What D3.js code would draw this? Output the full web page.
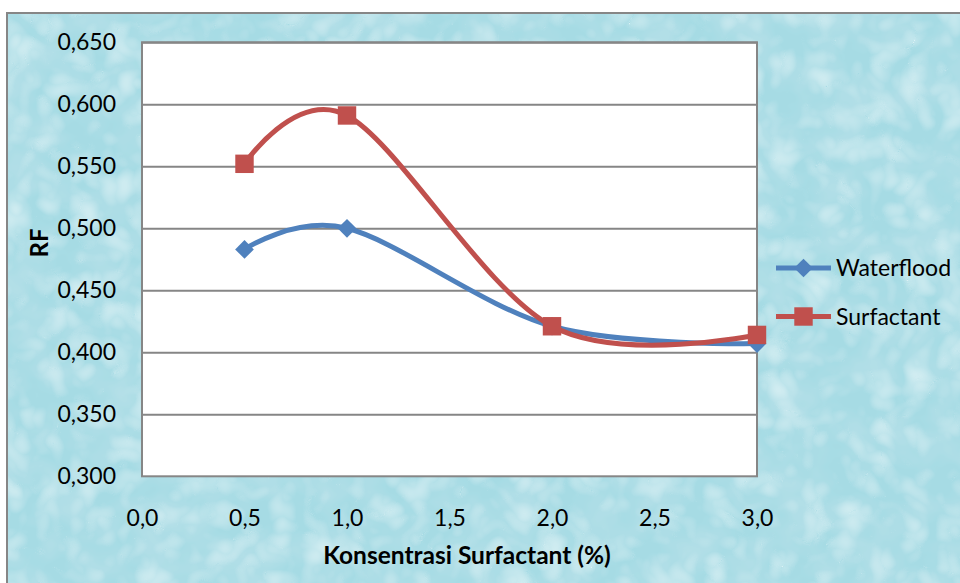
<!DOCTYPE html>
<html>
<head>
<meta charset="utf-8">
<script src="https://cdn.jsdelivr.net/npm/d3@7"></script>
<style>
  html, body { margin: 0; padding: 0; background: #ffffff; }
  svg { display: block; }
  text { font-family: Lato, "Open Sans", sans-serif; fill: #000; }
</style>
</head>
<body>
<svg id="chart" width="960" height="583"></svg>
<script>
// Surfactant concentration (%) and recovery factor for each run
const concentration = [0.5, 1.0, 2.0, 3.0];
const waterflood = [0.483, 0.500, 0.421, 0.407];
const surfactant = [0.552, 0.591, 0.421, 0.414];
const seriesNames = ["Waterflood", "Surfactant"];
const seriesColors = ["#4F81BD", "#C0504D"];
const xTicks = [0, 0.5, 1.0, 1.5, 2.0, 2.5, 3.0];
const yTicks = [0.30, 0.35, 0.40, 0.45, 0.50, 0.55, 0.60, 0.65];
const xTitle = "Konsentrasi Surfactant (%)";
const yTitle = "RF";

const svg = d3.select("#chart");
const fmtX = v => d3.format(".1f")(v).replace(".", ",");
const fmtY = v => d3.format(".3f")(v).replace(".", ",");

// Textured light-blue chart background
const defs = svg.append("defs");
const tex = defs.append("filter").attr("id", "water")
  .attr("x", 0).attr("y", 0).attr("width", 1).attr("height", 1);
tex.append("feTurbulence").attr("type", "fractalNoise")
  .attr("baseFrequency", "0.022 0.026").attr("numOctaves", 3).attr("seed", 7)
  .attr("result", "noise");
tex.append("feColorMatrix").attr("in", "noise").attr("type", "matrix")
  .attr("values", "0 0 0 0 0.50  0 0 0 0 0.76  0 0 0 0 0.82  1.3 0 0 0 -0.45")
  .attr("result", "dark");
tex.append("feTurbulence").attr("type", "turbulence")
  .attr("baseFrequency", "0.03").attr("numOctaves", 2).attr("seed", 3)
  .attr("result", "noise2");
tex.append("feColorMatrix").attr("in", "noise2").attr("type", "matrix")
  .attr("values", "0 0 0 0 0.82  0 0 0 0 0.94  0 0 0 0 0.96  0.9 0 0 0 -0.15")
  .attr("result", "light");
tex.append("feMerge").selectAll("feMergeNode")
  .data(["SourceGraphic", "dark", "light"]).join("feMergeNode").attr("in", d => d);

svg.append("rect")
  .attr("x", 7).attr("y", 13).attr("width", 960).attr("height", 580)
  .attr("fill", "#A6DBE4").attr("filter", "url(#water)");
svg.append("rect")
  .attr("x", 7).attr("y", 13).attr("width", 960).attr("height", 580)
  .attr("fill", "none").attr("stroke", "#868686").attr("stroke-width", 2);

// Plot area
const plot = { left: 142, top: 42.3, right: 757, bottom: 476.3 };
const x = d3.scaleLinear().domain([0, 3]).range([plot.left, plot.right]);
const y = d3.scaleLinear().domain([0.30, 0.65]).range([plot.bottom, plot.top]);

svg.append("rect")
  .attr("x", plot.left).attr("y", plot.top)
  .attr("width", plot.right - plot.left).attr("height", plot.bottom - plot.top)
  .attr("fill", "#ffffff");

// Horizontal gridlines
svg.append("g")
  .attr("transform", `translate(${plot.left},0)`)
  .call(d3.axisRight(y).tickValues(yTicks.slice(1)).tickSize(plot.right - plot.left).tickFormat(""))
  .call(g => g.select(".domain").remove())
  .call(g => g.selectAll("line").attr("stroke", "#868686").attr("stroke-width", 2));

// Plot border
svg.append("rect")
  .attr("x", plot.left).attr("y", plot.top)
  .attr("width", plot.right - plot.left).attr("height", plot.bottom - plot.top)
  .attr("fill", "none").attr("stroke", "#868686").attr("stroke-width", 2);

// Y axis labels
const yAxis = svg.append("g")
  .attr("transform", `translate(${plot.left},0)`)
  .call(d3.axisLeft(y).tickValues(yTicks).tickSize(0).tickPadding(26).tickFormat(fmtY));
yAxis.select(".domain").remove();
yAxis.selectAll("text").style("font-family", "Lato, sans-serif").style("font-size", "23px").attr("fill", "#000");

// X axis labels
const xAxis = svg.append("g")
  .attr("transform", `translate(0,${plot.bottom})`)
  .call(d3.axisBottom(x).tickValues(xTicks).tickSize(0).tickPadding(33).tickFormat(fmtX));
xAxis.select(".domain").remove();
xAxis.selectAll("text").style("font-family", "Lato, sans-serif").style("font-size", "23px").attr("fill", "#000");

// Axis titles
svg.append("text")
  .attr("x", 467).attr("y", 564).attr("text-anchor", "middle")
  .style("font-size", "24.5px").style("font-weight", "bold").text(xTitle);
svg.append("text")
  .attr("transform", "translate(48,243) rotate(-90)").attr("text-anchor", "middle")
  .style("font-size", "24px").style("font-weight", "bold").text(yTitle);

// Series: diamonds are squares turned 45 degrees
const series = [
  { name: seriesNames[0], color: seriesColors[0], values: waterflood, marker: d3.symbolSquare, size: 175, rot: 45 },
  { name: seriesNames[1], color: seriesColors[1], values: surfactant, marker: d3.symbolSquare, size: 340, rot: 0 }
];

const line = d3.line()
  .x(d => x(d[0])).y(d => y(d[1]))
  .curve(d3.curveCardinal.tension(0));

series.forEach(s => {
  const pts = concentration.map((c, i) => [c, s.values[i]]);
  svg.append("path").datum(pts)
    .attr("d", line).attr("fill", "none")
    .attr("stroke", s.color).attr("stroke-width", 5).attr("stroke-linejoin", "round");
  svg.append("g").selectAll("path").data(pts).join("path")
    .attr("transform", d => `translate(${x(d[0])},${y(d[1])}) rotate(${s.rot})`)
    .attr("d", d3.symbol().type(s.marker).size(s.size))
    .attr("fill", s.color);
});

// Legend
const legend = svg.append("g");
series.forEach((s, i) => {
  const ly = 268 + i * 48.5;
  legend.append("line")
    .attr("x1", 776).attr("x2", 831).attr("y1", ly).attr("y2", ly)
    .attr("stroke", s.color).attr("stroke-width", 5);
  legend.append("path")
    .attr("transform", `translate(803.5,${ly}) rotate(${s.rot})`)
    .attr("d", d3.symbol().type(s.marker).size(s.size))
    .attr("fill", s.color);
  legend.append("text")
    .attr("x", 836).attr("y", ly).attr("dy", "0.35em")
    .style("font-size", "23px").text(s.name);
});
</script>
</body>
</html>
